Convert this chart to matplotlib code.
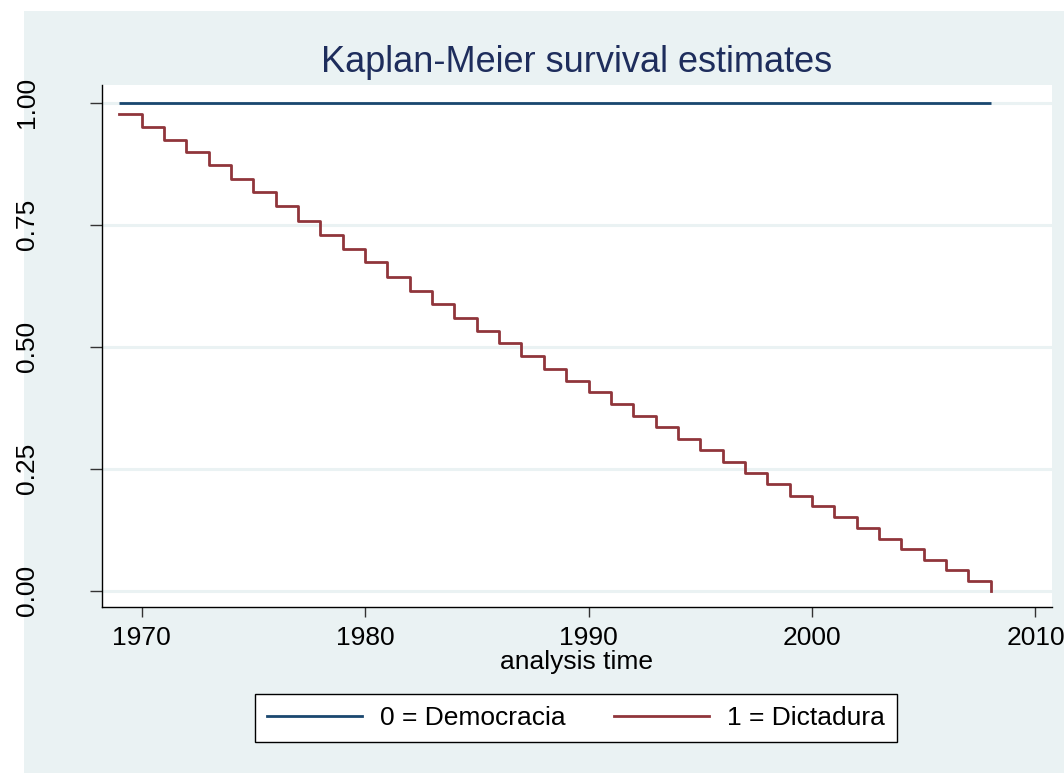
import matplotlib
matplotlib.use("Agg")
import matplotlib.pyplot as plt
from matplotlib.patches import Rectangle
from matplotlib.lines import Line2D

plt.rcParams['font.family'] = ['Liberation Sans', 'DejaVu Sans']

# ---- data ----
years_dem = [1969, 2008]
surv_dem = [1.0, 1.0]

years_dic = [1969, 1970, 1971, 1972, 1973, 1974, 1975, 1976, 1977, 1978,
             1979, 1980, 1981, 1982, 1983, 1984, 1985, 1986, 1987, 1988,
             1989, 1990, 1991, 1992, 1993, 1994, 1995, 1996, 1997, 1998,
             1999, 2000, 2001, 2002, 2003, 2004, 2005, 2006, 2007, 2008]
surv_dic = [0.976, 0.950, 0.924, 0.899, 0.872, 0.844, 0.816, 0.788, 0.757, 0.729,
            0.700, 0.673, 0.643, 0.615, 0.587, 0.559, 0.532, 0.507, 0.480, 0.454,
            0.430, 0.407, 0.382, 0.357, 0.335, 0.311, 0.288, 0.264, 0.241, 0.219,
            0.195, 0.173, 0.150, 0.128, 0.106, 0.085, 0.063, 0.042, 0.020, 0.000]

labels = ["0 = Democracia", "1 = Dictadura"]
title = "Kaplan-Meier survival estimates"
xlabel = "analysis time"
xticks = [1970, 1980, 1990, 2000, 2010]
yticks = [0.0, 0.25, 0.5, 0.75, 1.0]
yticklabels = ["0.00", "0.25", "0.50", "0.75", "1.00"]

# ---- style ----
W, H = 1064, 773
BG = '#EAF2F3'
NAVY = '#1A476F'
MAROON = '#90353B'
TITLE_C = '#1E2D5C'
FS = 19

fig = plt.figure(figsize=(W / 100, H / 100), dpi=100)
fig.patch.set_facecolor('white')
fig.add_artist(Rectangle((24 / W, 0), 1 - 24 / W, (H - 11) / H,
                         transform=fig.transFigure, facecolor=BG,
                         edgecolor='none', zorder=0))

L, R, T, B = 102, 1052, 85, 607
ax = fig.add_axes([L / W, (H - B) / H, (R - L) / W, (B - T) / H])
ax.set_facecolor('white')

ax.plot(years_dem, surv_dem, color=NAVY, lw=2.0, solid_capstyle='butt', zorder=3)
ax.step(years_dic, surv_dic, where='post', color=MAROON, lw=2.0, zorder=3)
# final drop of last step is drawn by step; add vertical to 0 already included

ax.set_xlim(1968.23, 2010.74)
ax.set_ylim(-0.0334, 1.036)

ax.set_xticks(xticks)
ax.set_yticks(yticks)
ax.set_yticklabels(yticklabels, rotation=90, va='center')
ax.yaxis.grid(True, color=BG, lw=2.2)
ax.xaxis.grid(False)
ax.set_axisbelow(True)

for s in ['top', 'right']:
    ax.spines[s].set_visible(False)
for s in ['left', 'bottom']:
    ax.spines[s].set_color('black')
    ax.spines[s].set_linewidth(1.0)

ax.tick_params(axis='x', direction='out', length=7.5, width=1.0, color='#333333',
               labelsize=FS, pad=6)
ax.tick_params(axis='y', direction='out', length=8.5, width=1.0, color='#333333',
               labelsize=FS, pad=37)

ax.set_xlabel(xlabel, fontsize=FS, labelpad=0)

fig.text(577 / W, (H - 72) / H, title, ha='center', va='baseline',
         fontsize=26, color=TITLE_C)

handles = [Line2D([], [], color=NAVY, lw=2.0),
           Line2D([], [], color=MAROON, lw=2.0)]
leg = fig.legend(handles, labels, loc='center',
                 bbox_to_anchor=(576 / W, (H - 718) / H),
                 ncol=2, fontsize=FS, frameon=True, fancybox=False,
                 edgecolor='black', facecolor='white', framealpha=1,
                 handlelength=3.6, handletextpad=0.7, columnspacing=1.8,
                 borderpad=0.45)
leg.get_frame().set_linewidth(1.0)

fig.savefig('out.png', dpi=100, facecolor=fig.get_facecolor())
